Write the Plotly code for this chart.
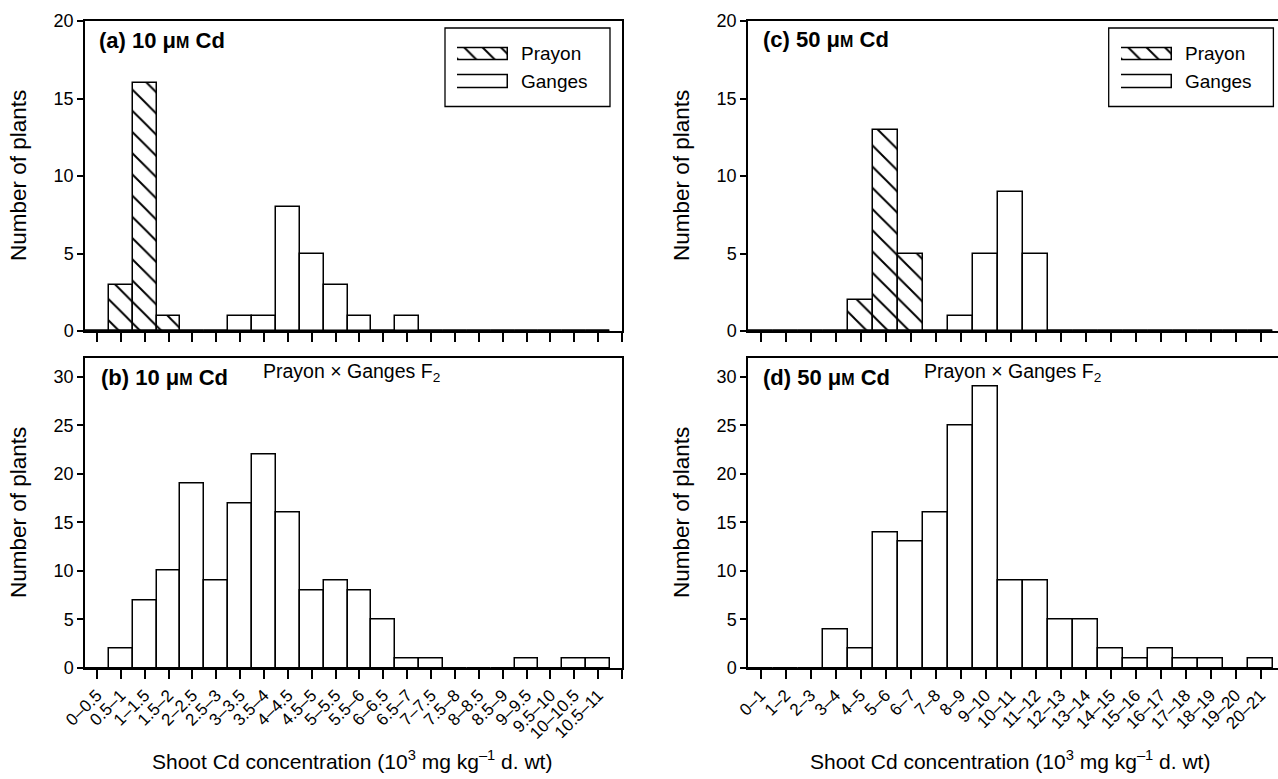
import plotly.graph_objects as go

W, H = 1278, 779
FONT = "Liberation Sans, Arial, Helvetica, sans-serif"

# ---------------- data ----------------
cats_10 = ["0–0.5", "0.5–1", "1–1.5", "1.5–2", "2–2.5", "2.5–3", "3–3.5", "3.5–4",
           "4–4.5", "4.5–5", "5–5.5", "5.5–6", "6–6.5", "6.5–7", "7–7.5", "7.5–8",
           "8–8.5", "8.5–9", "9–9.5", "9.5–10", "10–10.5", "10.5–11"]
prayon_10 = [0, 3, 16, 1, 0, 0, 0, 0, 0, 0, 0, 0, 0, 0, 0, 0, 0, 0, 0, 0, 0, 0]
ganges_10 = [0, 0, 0, 0, 0, 0, 1, 1, 8, 5, 3, 1, 0, 1, 0, 0, 0, 0, 0, 0, 0, 0]
f2_10 = [0, 2, 7, 10, 19, 9, 17, 22, 16, 8, 9, 8, 5, 1, 1, 0, 0, 0, 1, 0, 1, 1]

cats_50 = ["0–1", "1–2", "2–3", "3–4", "4–5", "5–6", "6–7", "7–8", "8–9", "9–10",
           "10–11", "11–12", "12–13", "13–14", "14–15", "15–16", "16–17", "17–18",
           "18–19", "19–20", "20–21"]
prayon_50 = [0, 0, 0, 0, 2, 13, 5, 0, 0, 0, 0, 0, 0, 0, 0, 0, 0, 0, 0, 0, 0]
ganges_50 = [0, 0, 0, 0, 0, 0, 0, 0, 1, 5, 9, 5, 0, 0, 0, 0, 0, 0, 0, 0, 0]
f2_50 = [0, 0, 0, 4, 2, 14, 13, 16, 25, 29, 9, 9, 5, 5, 2, 1, 2, 1, 1, 0, 1]

legend_names = ["Prayon", "Ganges"]
y_ticks_top = [0, 5, 10, 15, 20]
y_ticks_bottom = [0, 5, 10, 15, 20, 25, 30]


def px(x):
    return x / W


def py(y):
    return 1 - y / H


HATCH = dict(shape="\\", fgcolor="black", bgcolor="white", size=15, solidity=0.13,
             fillmode="overlay", fgopacity=1)
LINE = dict(color="black", width=1.5)

fig = go.Figure()


def bars(x, y, xa, ya, hatch=False):
    marker = dict(color="white", line=LINE)
    if hatch:
        marker["pattern"] = HATCH
    fig.add_trace(go.Bar(x=x, y=y, xaxis=xa, yaxis=ya, marker=marker, width=1.0,
                         showlegend=False, hoverinfo="x+y"))


bars(cats_10, prayon_10, "x", "y", hatch=True)
bars(cats_10, ganges_10, "x", "y")
bars(cats_10, f2_10, "x2", "y2")
bars(cats_50, prayon_50, "x3", "y3", hatch=True)
bars(cats_50, ganges_50, "x3", "y3")
bars(cats_50, f2_50, "x4", "y4")

# legend swatches (wide rectangles as in the original)
for xa, ya in (("x5", "y5"), ("x6", "y6")):
    fig.add_trace(go.Bar(
        x=[1, 1], y=legend_names, orientation="h", xaxis=xa, yaxis=ya,
        width=[0.44, 0.44],
        marker=dict(color="white", line=LINE,
                    pattern=dict(shape=["\\", ""], fgcolor="black", bgcolor="white",
                                 size=13, solidity=0.15, fillmode="overlay",
                                 fgopacity=1)),
        showlegend=False, hoverinfo="skip"))

LEFT = [px(85), px(622)]
RIGHT = [px(748), 1.0]
TOP = [py(331), py(21)]
BOT = [py(668), py(357.5)]

ytickfont = dict(family=FONT, size=18, color="black")
xtickfont = dict(family=FONT, size=17, color="black")


def xax(dom, anchor, cats, rng, labels, extra_tick):
    arr = list(cats) + ([" "] if extra_tick else [])
    return dict(domain=dom, anchor=anchor, type="category", categoryorder="array",
                categoryarray=arr, range=rng, showline=True, linecolor="black",
                linewidth=1.5, mirror=True, ticks="outside", ticklen=9, tickwidth=1.5,
                tickcolor="black", showgrid=False, zeroline=False, automargin=False,
                showticklabels=labels, tickangle=-45, tickfont=xtickfont,
                fixedrange=True)


def yax(dom, anchor, rng, tv, mirror):
    return dict(domain=dom, anchor=anchor, range=rng, tickvals=tv, showline=True,
                linecolor="black", linewidth=1.5, mirror=mirror, ticks="outside",
                ticklen=6, tickwidth=1.5, tickcolor="black", showgrid=False,
                zeroline=False, automargin=False, tickfont=ytickfont, fixedrange=True)


leg_y = [py(95.5), py(40.2)]
hidden = dict(visible=False, fixedrange=True, automargin=False)

fig.update_layout(
    template="none",
    width=W, height=H, margin=dict(l=0, r=0, t=0, b=0, pad=0, autoexpand=False),
    paper_bgcolor="white", plot_bgcolor="rgba(0,0,0,0)",
    font=dict(family=FONT, color="black"),
    barmode="overlay", bargap=0, showlegend=False,
    xaxis=xax(LEFT, "y", cats_10, [-0.5, 22.0], False, True),
    yaxis=yax(TOP, "x", [0, 20], y_ticks_top, True),
    xaxis2=xax(LEFT, "y2", cats_10, [-0.5, 22.0], True, True),
    yaxis2=yax(BOT, "x2", [0, 32], y_ticks_bottom, True),
    xaxis3=xax(RIGHT, "y3", cats_50, [-0.5, 20.7], False, False),
    yaxis3=yax(TOP, "x3", [0, 20], y_ticks_top, False),
    xaxis4=xax(RIGHT, "y4", cats_50, [-0.5, 20.7], True, False),
    yaxis4=yax(BOT, "x4", [0, 32], y_ticks_bottom, False),
    xaxis5=dict(domain=[px(457), px(508)], anchor="y5", range=[0, 1], **hidden),
    yaxis5=dict(domain=leg_y, anchor="x5", type="category", categoryorder="array",
                categoryarray=["Ganges", "Prayon"], range=[-0.5, 1.5], **hidden),
    xaxis6=dict(domain=[px(1121), px(1172)], anchor="y6", range=[0, 1], **hidden),
    yaxis6=dict(domain=leg_y, anchor="x6", type="category", categoryorder="array",
                categoryarray=["Ganges", "Prayon"], range=[-0.5, 1.5], **hidden),
)

# legend frames
for x0, x1 in ((445, 610), (1108.7, 1273.4)):
    fig.add_shape(type="rect", xref="paper", yref="paper", x0=px(x0), x1=px(x1),
                  y0=py(106.5), y1=py(28), line=dict(color="black", width=1.3),
                  fillcolor="rgba(0,0,0,0)", layer="above")

ann = []


def text(x, y, s, size, xanchor="left", yanchor="middle", bold=False, angle=0):
    ann.append(dict(x=px(x), y=py(y), xref="paper", yref="paper", text=s,
                    showarrow=False, xanchor=xanchor, yanchor=yanchor,
                    textangle=angle,
                    font=dict(family=FONT, size=size, color="black",
                              weight="bold" if bold else "normal")))


SMALLM = "<span style='font-size:16px'>M</span>"
text(97, 41, f"(a) 10 μ{SMALLM} Cd", 22, bold=True)
text(99, 377, f"(b) 10 μ{SMALLM} Cd", 22, bold=True)
text(761, 40, f"(c) 50 μ{SMALLM} Cd", 22, bold=True)
text(761, 377, f"(d) 50 μ{SMALLM} Cd", 22, bold=True)
text(351.5, 372, "Prayon × Ganges F<sub>2</sub>", 19.5, xanchor="center")
text(1012, 372, "Prayon × Ganges F<sub>2</sub>", 19.5, xanchor="center")

for lx in (519, 1183):
    text(lx, 54, legend_names[0], 19)
    text(lx, 81.5, legend_names[1], 19)

for yx in (18, 681):
    text(yx, 176, "Number of plants", 22.5, xanchor="center", angle=-90)
    text(yx, 513, "Number of plants", 22.5, xanchor="center", angle=-90)

xtitle = "Shoot Cd concentration (10<sup>3</sup> mg kg<sup>–1</sup> d. wt)"
text(352, 775, xtitle, 21, xanchor="center", yanchor="bottom")
text(1010, 775, xtitle, 21, xanchor="center", yanchor="bottom")

fig.update_layout(annotations=ann)

fig.write_html("out.html",
               config={"displayModeBar": False, "staticPlot": False},
               post_script="document.body.style.margin='0';"
                           "document.body.style.padding='0';")
